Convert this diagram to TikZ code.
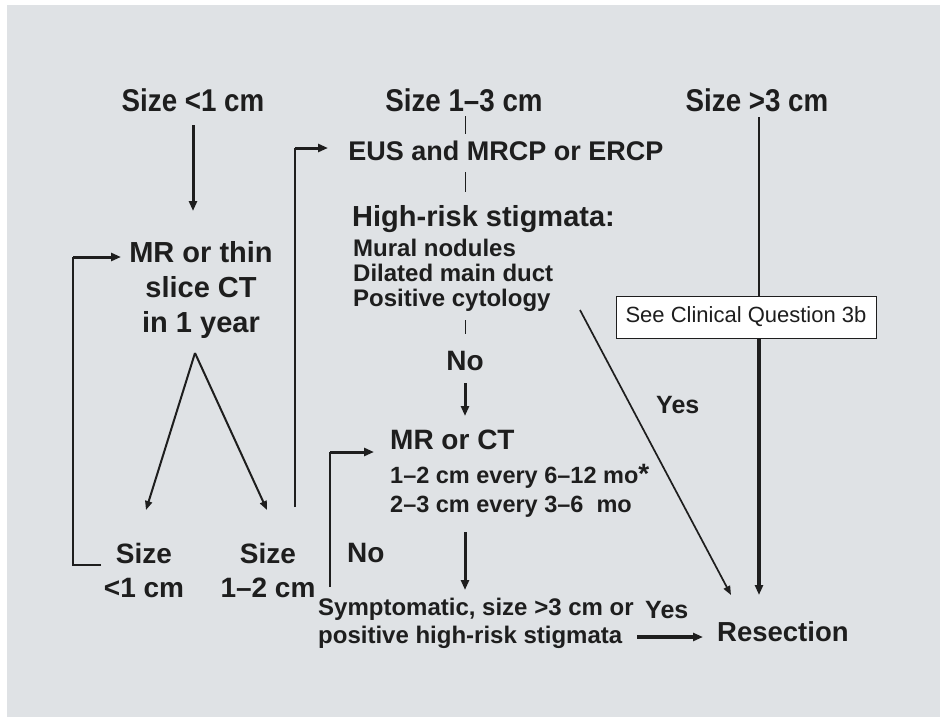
\documentclass[tikz,border=0pt]{standalone}
\usepackage{fontspec}
\setmainfont{Liberation Sans}
\newfontfamily\condfont{Liberation Sans}[FakeStretch=0.88]
\usetikzlibrary{arrows.meta}
\definecolor{bg}{RGB}{223,226,229}
\definecolor{ink}{RGB}{30,30,30}
\begin{document}
\begin{tikzpicture}[x=1pt,y=-1pt,
  txt/.style={inner sep=0pt, text=ink, anchor=base, font=\bfseries\fontsize{28}{34}\selectfont},
  head/.style={inner sep=0pt, text=ink, anchor=base, font=\condfont\bfseries\fontsize{31.5}{34}\selectfont},
  subtxt/.style={inner sep=0pt, text=ink, anchor=base west, font=\bfseries\fontsize{24}{29}\selectfont},
  thk/.style={draw=ink, line width=3pt},
  mid/.style={draw=ink, line width=2pt},
  thn/.style={draw=ink, line width=1.5pt},
  hair/.style={draw=ink, line width=1pt},
  arr/.style={-{Triangle[length=10pt,width=8pt]}},
  sarr/.style={-{Triangle[length=9pt,width=7pt]}},
]
\useasboundingbox (0,0) rectangle (940,717);
\fill[bg] (7,5) rectangle (940,717);

% ---- texts ----
\node[head] (s1) at (193,111) {Size <1 cm};
\node[head] (s2) at (464,111) {Size 1–3 cm};
\node[head] (s3) at (757,111) {Size >3 cm};

\node[txt, anchor=north, align=center, font=\bfseries\fontsize{29}{35}\selectfont] (mrthin) at (201,241) {MR or thin\\slice CT\\in 1 year};

\node[txt, font=\bfseries\fontsize{27}{32}\selectfont] (eus) at (506,160) {EUS and MRCP or ERCP};

\node[txt, anchor=base west, font=\bfseries\fontsize{29}{34}\selectfont] (hrs) at (352,226) {High-risk stigmata:};
\node[subtxt] (mural) at (353,256) {Mural nodules};
\node[subtxt] (dil) at (353,281) {Dilated main duct};
\node[subtxt] (pos) at (353,306) {Positive cytology};

\node[txt] (no1) at (465,370) {No};

\node[txt, anchor=base west] (mrct) at (390,449) {MR or CT};
\node[subtxt, font=\bfseries\fontsize{23.5}{28}\selectfont] (l12) at (390,483) {1–2 cm every 6–12 mo{\fontsize{28}{28}\selectfont *}};
\node[subtxt, font=\bfseries\fontsize{23.5}{28}\selectfont] (l23) at (390,512) {2–3 cm every 3–6\ \ mo};

\node[txt, anchor=base west] (no2) at (347,562) {No};

\node[subtxt] (sym1) at (318,615) {Symptomatic, size >3 cm or};
\node[subtxt] (sym2) at (318,643) {positive high-risk stigmata};

\node[txt, anchor=base west, font=\bfseries\fontsize{25}{30}\selectfont] (yes2) at (645,618) {Yes};
\node[txt, anchor=base west, font=\bfseries\fontsize{25}{30}\selectfont] (yes1) at (656,413) {Yes};

\node[txt, anchor=base west, font=\bfseries\fontsize{27.5}{33}\selectfont] (res) at (717,641) {Resection};

\node[txt, anchor=north, align=center] (b1) at (144,543) {Size\\<1 cm};
\node[txt, anchor=north, align=center] (b2) at (268,543) {Size\\1–2 cm};

\node[draw=ink, fill=white, line width=1pt, minimum width=260pt, minimum height=42pt,
      inner sep=0pt, text=ink, font=\fontsize{22}{26}\selectfont] (see) at (746,317) {See Clinical Question 3b};

% ---- coordinates ----
\coordinate (a1s) at (193,125);
\coordinate (a1e) at (193,211);
\coordinate (apex) at (195,353);
\coordinate (tipL) at (146,510);
\coordinate (tipR) at (267,510);
\coordinate (lb0) at (101,565);
\coordinate (lb1) at (73,565);
\coordinate (lb2) at (73,257);
\coordinate (lb3) at (121,257);
\coordinate (eb0) at (295,507);
\coordinate (eb1) at (295,148);
\coordinate (eb2) at (328,148);
\coordinate (c1) at (330,587);
\coordinate (c2) at (330,452);
\coordinate (c3) at (374,452);
\coordinate (d1) at (580,310);
\coordinate (d2) at (731,595);
\coordinate (v1) at (759,117);
\coordinate (v2) at (759,595);
\coordinate (y1) at (637,637);
\coordinate (y2) at (703,637);

% ---- connectors ----
\draw[thk, arr] (a1s) -- (a1e);
\draw[mid, sarr] (apex) -- (tipL);
\draw[mid, sarr] (apex) -- (tipR);

\draw[mid] (lb0) -- (lb1) -- (lb2);
\draw[thk, arr] (lb2) -- (lb3);

\draw[thn] (eb0) -- (eb1);
\draw[thk, arr] (eb1) -- (eb2);

\draw[hair] (465,116) -- (465,134);
\draw[hair] (465,172) -- (465,192);
\draw[hair] (465,320) -- (465,334);

\draw[thk, arr] (465,383) -- (465,416);
\draw[thk, arr] (465,532) -- (465,590);

\draw[thn] (c1) -- (c2);
\draw[thk, arr] (c2) -- (c3);

\draw[line width=1.7pt, draw=ink, sarr] (d1) -- (d2);

\draw[thn] (v1) -- (see.north -| v1);
\draw[line width=3.5pt, draw=ink, arr] (see.south -| v1) -- (v2);

\draw[line width=3.5pt, draw=ink, arr] (y1) -- (y2);
\end{tikzpicture}
\end{document}
